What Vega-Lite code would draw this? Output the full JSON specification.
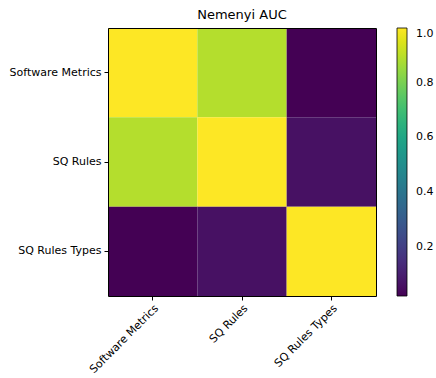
{
  "$schema": "https://vega.github.io/schema/vega-lite/v6.json",
  "width": 268,
  "height": 268,
  "autosize": {"type": "none"},
  "padding": {"left": 108, "top": 28, "right": 60, "bottom": 82},
  "background": "white",
  "title": {"text": "Nemenyi AUC", "font": "DejaVu Sans", "fontSize": 13, "fontWeight": "normal", "color": "black", "offset": 6},
  "config": {
    "view": {"stroke": null},
    "font": "DejaVu Sans"
  },
  "data": {"values": [
    {"row": "Software Metrics", "col": "Software Metrics", "v": 1.0},
    {"row": "Software Metrics", "col": "SQ Rules", "v": 0.89},
    {"row": "Software Metrics", "col": "SQ Rules Types", "v": 0.02},
    {"row": "SQ Rules", "col": "Software Metrics", "v": 0.89},
    {"row": "SQ Rules", "col": "SQ Rules", "v": 1.0},
    {"row": "SQ Rules", "col": "SQ Rules Types", "v": 0.06},
    {"row": "SQ Rules Types", "col": "Software Metrics", "v": 0.02},
    {"row": "SQ Rules Types", "col": "SQ Rules", "v": 0.06},
    {"row": "SQ Rules Types", "col": "SQ Rules Types", "v": 1.0}
  ]},
  "layer": [
    {
      "mark": {"type": "rect", "strokeWidth": 0},
      "encoding": {
        "x": {"field": "col", "type": "nominal", "sort": ["Software Metrics", "SQ Rules", "SQ Rules Types"],
          "scale": {"paddingInner": 0, "paddingOuter": 0},
          "axis": {"title": null, "labelAngle": -45, "labelAlign": "right", "labelBaseline": "top", "labelFontSize": 11, "labelColor": "black", "domain": true, "domainColor": "black", "tickColor": "black", "tickSize": 4, "labelPadding": 2, "grid": false}},
        "y": {"field": "row", "type": "nominal", "sort": ["Software Metrics", "SQ Rules", "SQ Rules Types"],
          "scale": {"paddingInner": 0, "paddingOuter": 0},
          "axis": {"title": null, "labelFontSize": 11, "labelColor": "black", "domain": true, "domainColor": "black", "tickColor": "black", "tickSize": 4, "labelPadding": 3, "grid": false}},
        "color": {"field": "v", "type": "quantitative",
          "scale": {"scheme": "viridis", "domain": [0.02, 1.0]},
          "legend": {"title": null, "gradientLength": 268, "gradientThickness": 10, "offset": 21, "values": [0.2, 0.4, 0.6, 0.8, 1.0], "format": ".1f", "labelFontSize": 11, "labelColor": "black", "gradientStrokeColor": "black", "gradientStrokeWidth": 0.8, "labelOffset": 9, "padding": 0}}
      }
    },
    {
      "mark": {"type": "rect", "opacity": 0},
      "encoding": {
        "x": {"field": "col", "type": "nominal", "sort": ["Software Metrics", "SQ Rules", "SQ Rules Types"],
          "scale": {"paddingInner": 0, "paddingOuter": 0},
          "axis": {"orient": "top", "title": null, "labels": false, "ticks": false, "domain": true, "domainColor": "black", "grid": false}},
        "y": {"field": "row", "type": "nominal", "sort": ["Software Metrics", "SQ Rules", "SQ Rules Types"],
          "scale": {"paddingInner": 0, "paddingOuter": 0},
          "axis": {"orient": "right", "title": null, "labels": false, "ticks": false, "domain": true, "domainColor": "black", "grid": false}}
      }
    }
  ],
  "resolve": {"axis": {"x": "independent", "y": "independent"}}
}
